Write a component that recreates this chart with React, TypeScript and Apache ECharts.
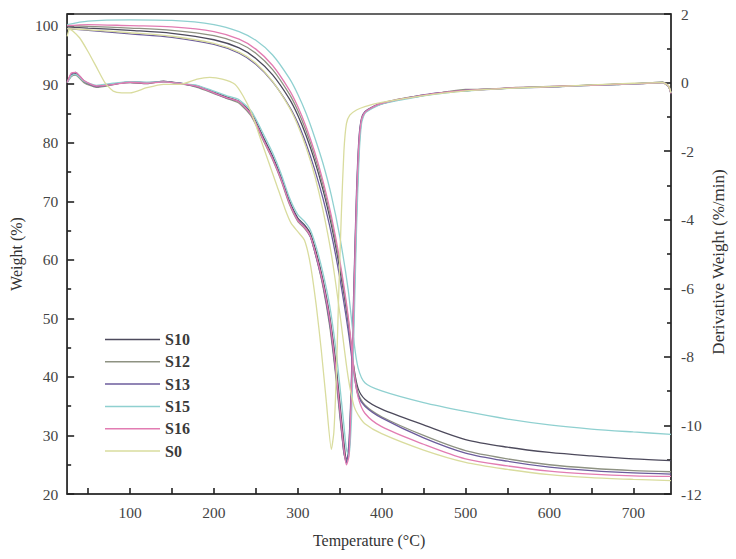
import React, { useEffect, useRef } from "react";
import * as echarts from "echarts";

const names = ["S10", "S12", "S13", "S15", "S16", "S0"];
const colors = ["#4d4a5c", "#8e9282", "#6c5c9c", "#8fd0d0", "#e27cb2", "#d9dc9e"];

const xTickValues = [50, 100, 150, 200, 250, 300, 350, 400, 450, 500, 550, 600, 650, 700];
const xLabelValues = [100, 200, 300, 400, 500, 600, 700];

// TG (weight %) temperatures
const tgT = [25, 50, 100, 150, 200, 230, 250, 270, 290, 300, 310, 320, 330, 340, 350, 360, 367, 372, 380, 400, 450, 500, 550, 600, 650, 700, 745];
const tgS10 = [99.8, 99.6, 99.2, 98.7, 97.6, 96.2, 94.4, 91.6, 87.5, 84.7, 81.2, 77.0, 72.0, 66.0, 58.5, 49.5, 41.5, 38.0, 36.2, 34.5, 31.8, 29.3, 28.0, 27.1, 26.5, 26.0, 25.7];
const tgS12 = [100.0, 99.9, 99.6, 99.2, 98.3, 97.0, 95.3, 92.5, 88.3, 85.5, 82.0, 77.8, 72.8, 66.8, 59.3, 50.0, 41.2, 37.2, 35.2, 33.2, 30.0, 27.4, 26.0, 25.0, 24.4, 24.0, 23.8];
const tgS13 = [99.5, 99.2, 98.6, 98.0, 96.8, 95.3, 93.4, 90.4, 86.2, 83.4, 79.8, 75.5, 70.5, 64.5, 57.0, 48.0, 40.5, 36.8, 35.0, 33.0, 29.6, 27.0, 25.6, 24.6, 24.0, 23.6, 23.4];
const tgS15 = [100.2, 100.8, 101.0, 100.9, 100.2, 99.0, 97.5, 95.0, 91.0, 88.3, 85.0, 81.0, 76.5, 71.0, 64.0, 55.0, 46.0, 41.5, 39.0, 37.6, 35.6, 34.1, 32.8, 31.8, 31.1, 30.6, 30.2];
const tgS16 = [100.0, 100.2, 100.0, 99.8, 99.0, 97.7, 96.0, 93.2, 89.0, 86.2, 82.7, 78.5, 73.5, 67.5, 60.0, 50.5, 41.0, 36.5, 33.8, 31.5, 28.5, 26.0, 24.8, 23.9, 23.4, 23.1, 23.0];
const tgS0 = [99.5, 99.3, 98.8, 98.2, 97.0, 95.5, 93.6, 90.5, 86.0, 83.0, 79.2, 74.5, 68.5, 61.0, 51.0, 40.0, 35.0, 33.5, 32.0, 30.3, 27.5, 25.4, 24.2, 23.3, 22.8, 22.5, 22.3];

// DTG (%/min) temperatures
const dtgT = [25, 30, 35, 45, 60, 80, 100, 120, 140, 160, 180, 200, 215, 230, 245, 260, 270, 280, 290, 300, 308, 315, 322, 330, 338, 345, 350, 355, 358, 361, 364, 367, 370, 373, 376, 380, 390, 400, 420, 440, 460, 480, 500, 530, 560, 590, 620, 650, 680, 710, 735, 742, 745];
const dtgS10 = [0.0, 0.22, 0.26, 0.02, -0.1, -0.04, 0.0, -0.03, 0.04, -0.04, -0.1, -0.28, -0.42, -0.55, -0.9, -1.65, -2.15, -2.75, -3.45, -3.95, -4.15, -4.4, -4.95, -5.75, -6.8, -8.1, -9.3, -10.5, -11.0, -10.8, -9.2, -6.5, -3.8, -1.9, -1.1, -0.88, -0.72, -0.62, -0.5, -0.42, -0.33, -0.27, -0.24, -0.18, -0.16, -0.12, -0.11, -0.07, -0.06, -0.02, 0.0, -0.1, -0.35];
const dtgS12 = [0.0, 0.18, 0.22, 0.0, -0.14, -0.06, 0.03, 0.0, 0.02, -0.02, -0.14, -0.32, -0.46, -0.6, -1.0, -1.75, -2.25, -2.85, -3.55, -4.05, -4.25, -4.5, -5.1, -5.95, -7.1, -8.5, -9.7, -10.8, -11.05, -10.6, -8.8, -6.0, -3.4, -1.7, -1.05, -0.86, -0.7, -0.6, -0.48, -0.4, -0.34, -0.26, -0.2, -0.2, -0.14, -0.14, -0.1, -0.08, -0.04, -0.03, 0.02, -0.1, -0.3];
const dtgS13 = [0.0, 0.25, 0.3, 0.05, -0.12, -0.05, 0.02, 0.0, 0.03, -0.02, -0.12, -0.3, -0.45, -0.55, -0.95, -1.7, -2.2, -2.8, -3.5, -4.0, -4.2, -4.5, -5.1, -5.9, -7.0, -8.4, -9.6, -10.8, -11.1, -10.5, -8.6, -5.8, -3.2, -1.6, -1.05, -0.85, -0.7, -0.6, -0.5, -0.4, -0.32, -0.28, -0.22, -0.2, -0.15, -0.14, -0.1, -0.08, -0.05, -0.03, 0.0, -0.12, -0.3];
const dtgS15 = [0.0, 0.2, 0.24, 0.04, -0.08, -0.02, 0.03, 0.01, 0.02, -0.03, -0.08, -0.25, -0.38, -0.5, -0.85, -1.55, -2.05, -2.65, -3.35, -3.85, -4.05, -4.3, -4.8, -5.55, -6.5, -7.7, -8.8, -10.0, -10.7, -10.9, -9.8, -7.2, -4.3, -2.2, -1.2, -0.9, -0.74, -0.63, -0.52, -0.43, -0.35, -0.29, -0.25, -0.19, -0.16, -0.13, -0.11, -0.08, -0.06, -0.03, 0.0, -0.1, -0.3];
const dtgS16 = [0.0, 0.28, 0.3, 0.06, -0.1, -0.06, 0.01, -0.02, 0.02, -0.03, -0.11, -0.3, -0.44, -0.56, -0.95, -1.72, -2.22, -2.82, -3.52, -4.02, -4.22, -4.48, -5.05, -5.85, -6.9, -8.3, -9.5, -10.7, -11.15, -10.9, -9.0, -6.2, -3.5, -1.75, -1.08, -0.87, -0.71, -0.61, -0.49, -0.41, -0.33, -0.27, -0.23, -0.19, -0.15, -0.13, -0.1, -0.08, -0.05, -0.03, 0.0, -0.1, -0.32];

const dtgS0T = [25, 28, 32, 40, 50, 60, 70, 80, 90, 100, 120, 140, 160, 180, 195, 210, 225, 235, 245, 255, 265, 275, 285, 292, 300, 308, 315, 322, 328, 334, 340, 343, 346, 349, 352, 355, 358, 362, 370, 380, 400, 450, 500, 550, 600, 650, 700, 735, 742, 745];
const dtgS0 = [1.35, 1.55, 1.5, 1.3, 0.9, 0.45, 0.0, -0.25, -0.3, -0.3, -0.15, -0.05, -0.05, 0.1, 0.15, 0.1, -0.05, -0.4, -0.9, -1.6, -2.3, -3.0, -3.7, -4.1, -4.35, -4.6, -5.3, -6.5, -7.8, -9.3, -10.7, -10.2, -8.5, -6.0, -3.8, -2.0, -1.2, -0.95, -0.8, -0.7, -0.58, -0.38, -0.24, -0.17, -0.12, -0.07, -0.02, 0.0, -0.1, -0.3];

const tgData = [tgS10, tgS12, tgS13, tgS15, tgS16, tgS0];
const dtgData = [dtgS10, dtgS12, dtgS13, dtgS15, dtgS16, dtgS0];
const dtgTemps = [dtgT, dtgT, dtgT, dtgT, dtgT, dtgS0T];

const FONT = "Liberation Serif";

export default function App() {
  const ref = useRef<HTMLDivElement>(null);
  useEffect(() => {
    if (!ref.current) return;
    const chart = echarts.init(ref.current, undefined, { renderer: "svg" });
    const series: any[] = [];
    names.forEach((n, i) => {
      series.push({
        name: n,
        type: "line",
        xAxisIndex: 0,
        yAxisIndex: 0,
        symbol: "none",
        smooth: 0.3,
        lineStyle: { color: colors[i], width: 1.3 },
        itemStyle: { color: colors[i] },
        data: tgT.map((t, k) => [t, tgData[i][k]]),
        z: 3,
      });
      series.push({
        name: n,
        type: "line",
        xAxisIndex: 0,
        yAxisIndex: 1,
        symbol: "none",
        smooth: 0.2,
        lineStyle: { color: colors[i], width: 1.3 },
        itemStyle: { color: colors[i] },
        data: dtgTemps[i].map((t, k) => [t, dtgData[i][k]]),
        z: 3,
      });
    });
    const axisLabel = { fontFamily: FONT, fontSize: 15.5, color: "#444" };
    const tick = { show: true, inside: true, length: 6, lineStyle: { color: "#222", width: 1.6 } };
    const yTick = { show: true, inside: true, length: 7, lineStyle: { color: "#222", width: 1.6 } };
    const minor = { show: true, splitNumber: 2, length: 4, lineStyle: { color: "#222", width: 1.6 } };
    chart.setOption({
      animation: false,
      backgroundColor: "#fff",
      grid: { left: 66, right: 65, top: 14, bottom: 65, show: true, borderColor: "#333", borderWidth: 1.5 },
      legend: {
        data: names,
        orient: "vertical",
        left: 100,
        top: 326,
        icon: "rect",
        itemWidth: 55,
        itemHeight: 1.5,
        itemGap: 5.3,
        textStyle: { fontFamily: FONT, fontSize: 16, fontWeight: "bold", color: "#3a3a3a", lineHeight: 17 },
      },
      graphic: [
        {
          type: "text",
          x: 718,
          y: 262,
          rotation: Math.PI / 2,
          style: {
            text: "Derivative Weight (%/min)",
            fontFamily: FONT,
            fontSize: 17,
            fill: "#333",
            align: "center",
            verticalAlign: "middle",
          },
        },
      ],
      xAxis: {
        type: "value",
        min: 25,
        max: 745,
        name: "Temperature (°C)",
        nameLocation: "middle",
        nameGap: 38,
        nameTextStyle: { fontFamily: FONT, fontSize: 16, color: "#333" },
        axisLine: { onZero: false, lineStyle: { color: "#333", width: 1.5 } },
        axisTick: { ...tick, customValues: xTickValues },
        splitLine: { show: false },
        axisLabel: { ...axisLabel, margin: 10, customValues: xLabelValues },
      },
      yAxis: [
        {
          type: "value",
          min: 20,
          max: 102,
          interval: 10,
          name: "Weight (%)",
          nameLocation: "middle",
          nameGap: 38,
          nameTextStyle: { fontFamily: FONT, fontSize: 16, color: "#333" },
          axisLine: { show: true, lineStyle: { color: "#333", width: 1.5 } },
          axisTick: yTick,
          minorTick: minor,
          splitLine: { show: false },
          axisLabel: { ...axisLabel, margin: 9, formatter: (v: number) => (v % 10 === 0 ? String(v) : "") },
        },
        {
          type: "value",
          min: -12,
          max: 2,
          interval: 2,
          position: "right",
          axisLine: { show: true, lineStyle: { color: "#333", width: 1.5 } },
          axisTick: yTick,
          minorTick: minor,
          splitLine: { show: false },
          axisLabel: { ...axisLabel, margin: 10 },
        },
      ],
      series,
    });
    return () => chart.dispose();
  }, []);
  return <div ref={ref} style={{ width: 736, height: 559, position: "absolute", left: 0, top: 0 }} />;
}
